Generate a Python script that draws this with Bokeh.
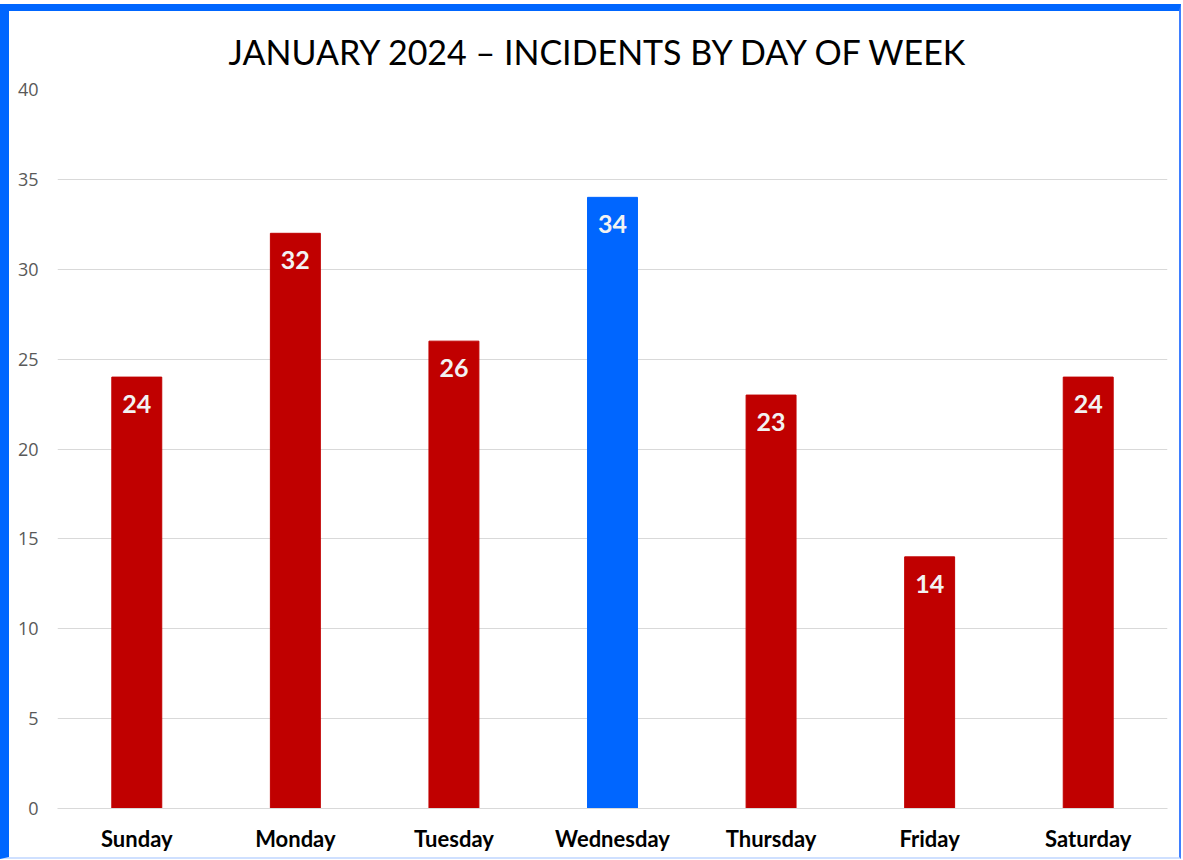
from bokeh.plotting import figure
from bokeh.models import ColumnDataSource, Range1d, LabelSet, FixedTicker
from bokeh.core.properties import value
from bokeh.embed import file_html
from bokeh.resources import INLINE

days = ["Sunday", "Monday", "Tuesday", "Wednesday", "Thursday", "Friday", "Saturday"]
incidents = [24, 32, 26, 34, 23, 14, 24]
bar_colors = ["#C00000", "#C00000", "#C00000", "#0066FF", "#C00000", "#C00000", "#C00000"]
y_ticks = [0, 5, 10, 15, 20, 25, 30, 35, 40]
title_text = "JANUARY 2024 \u2013 INCIDENTS BY DAY OF WEEK"

src = ColumnDataSource(dict(day=days, n=incidents, color=bar_colors,
                            lbl=[str(v) for v in incidents]))

# Bokeh sizes the canvas to the host's border-box (content + 11 px wide, + 9 px tall),
# so the right/bottom borders below include that overflow.
p = figure(x_range=days, y_range=Range1d(0, 40), width=1170, height=846,
           output_backend="svg", toolbar_location=None, title=title_text,
           min_border_left=48, min_border_right=23, min_border_bottom=58,
           min_border_top=78)
p.styles = {"box-sizing": "content-box", "overflow": "hidden",
            "border-left": "9px solid #0066FF", "border-top": "7px solid #0066FF",
            "border-right": "2px solid #3F7FFF", "border-bottom": "2px solid #CFE0FF",
            "margin-top": "4px"}

p.title.align = "left"
p.title.offset = 171
p.title.text_font = "Lato"
p.title.text_font_size = "34px"
p.title.text_font_style = "normal"
p.title.text_color = "#000000"
p.title.standoff = 35

p.vbar(x="day", top="n", width=0.315, color="color", source=src)

labels = LabelSet(x="day", y="n", text="lbl", source=src, text_align="center",
                  text_baseline="middle", y_offset=-27, text_color="#F2F2F2",
                  text_font=value("Lato"), text_font_style="bold",
                  text_font_size="25px")
p.add_layout(labels)

p.outline_line_color = None
p.xgrid.grid_line_color = None
p.ygrid.grid_line_color = "#D9D9D9"
p.ygrid.grid_line_width = 1

p.yaxis.ticker = FixedTicker(ticks=y_ticks)
p.yaxis.axis_line_color = None
p.yaxis.major_tick_line_color = None
p.yaxis.minor_tick_line_color = None
p.yaxis.major_label_text_font = "Open Sans"
p.yaxis.major_label_text_font_size = "18px"
p.yaxis.major_label_text_color = "#595959"
p.yaxis.major_label_standoff = 13

p.xaxis.axis_line_color = "#D9D9D9"
p.xaxis.major_tick_line_color = None
p.xaxis.minor_tick_line_color = None
p.xaxis.major_label_text_font = "Lato"
p.xaxis.major_label_text_font_style = "bold"
p.xaxis.major_label_text_font_size = "22px"
p.xaxis.major_label_text_color = "#000000"
p.xaxis.major_label_standoff = 10

open("out.html", "w").write(file_html(p, INLINE))
